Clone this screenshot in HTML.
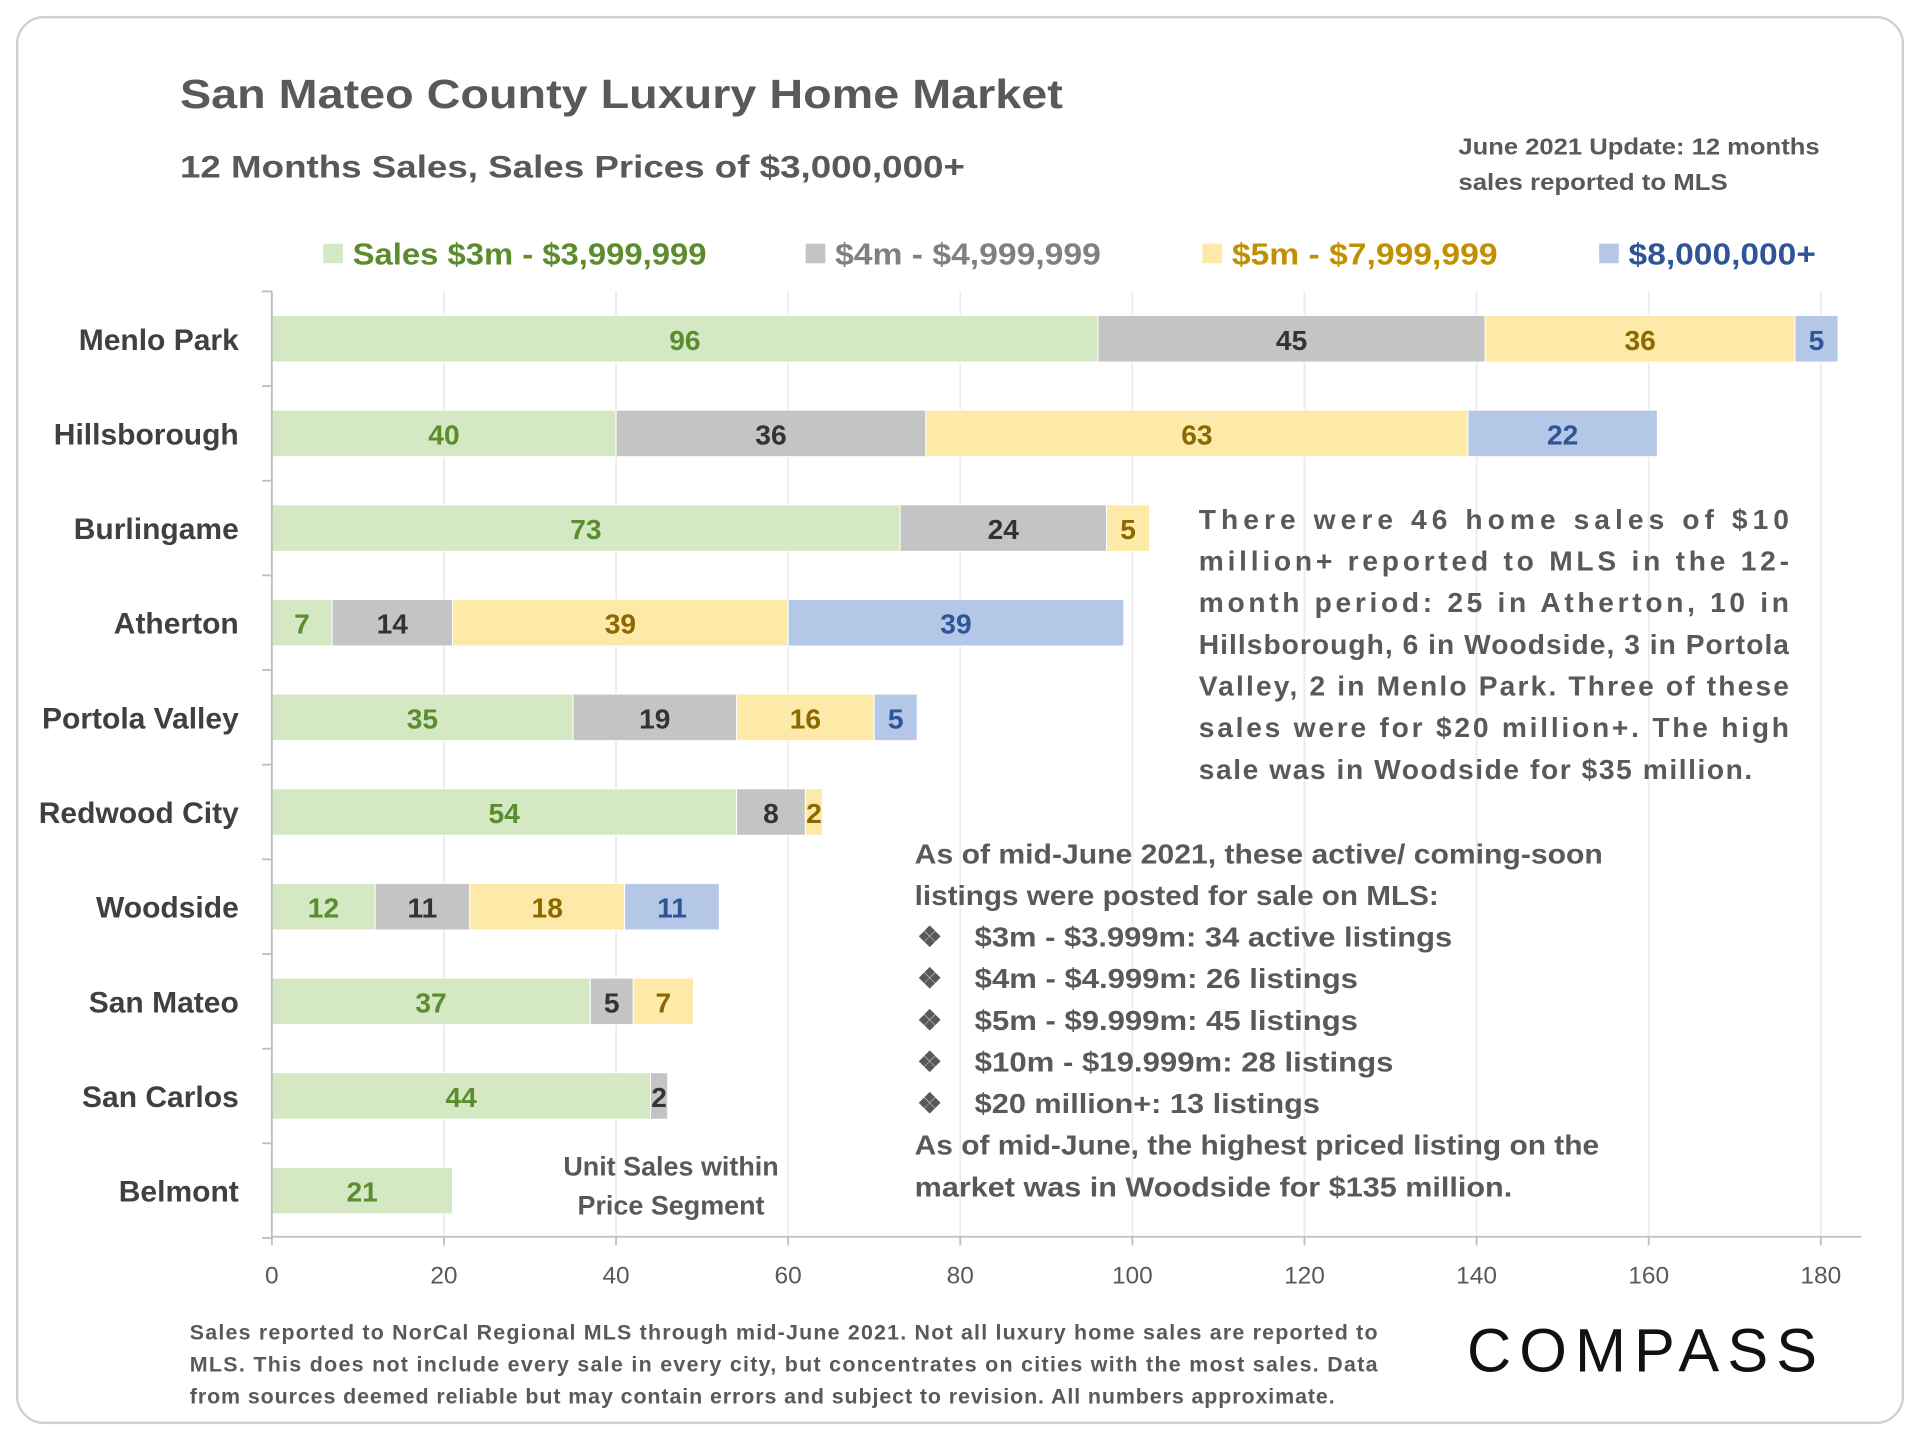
<!DOCTYPE html>
<html><head><meta charset="utf-8"><style>
html,body{margin:0;padding:0;background:#fff}
svg{display:block}
text{font-family:"Liberation Sans",sans-serif;font-weight:bold}
</style></head><body>
<svg id="chart" width="1920" height="1440" viewBox="0 0 1568 1176" xmlns="http://www.w3.org/2000/svg">
<rect x="14" y="14" width="1540" height="1148" rx="22" fill="#fff" stroke="#d0d0d0" stroke-width="2"/>
<text x="147" y="88" font-size="33" fill="#595959" textLength="721" lengthAdjust="spacingAndGlyphs">San Mateo County Luxury Home Market</text>
<text x="147" y="145" font-size="26" fill="#595959" textLength="641" lengthAdjust="spacingAndGlyphs">12 Months Sales, Sales Prices of $3,000,000+</text>
<text font-size="19" fill="#595959"><tspan x="1191" y="126" textLength="295" lengthAdjust="spacingAndGlyphs">June 2021 Update: 12 months</tspan><tspan x="1191" y="155" textLength="220" lengthAdjust="spacingAndGlyphs">sales reported to MLS</tspan></text>
<g id="legend"></g>
<g id="grid"></g>
<g id="bars"></g>
<g id="axes"></g>
<text font-size="22" fill="#595959" text-anchor="middle"><tspan x="548" y="960">Unit Sales within</tspan><tspan x="548" y="992">Price Segment</tspan></text>
<g font-size="23" fill="#595959">
<text x="979" y="432" textLength="482" lengthAdjust="spacing">There were 46 home sales of $10</text>
<text x="979" y="466" textLength="482" lengthAdjust="spacing">million+ reported to MLS in the 12-</text>
<text x="979" y="500" textLength="482" lengthAdjust="spacing">month period: 25 in Atherton, 10 in</text>
<text x="979" y="534" textLength="482" lengthAdjust="spacing">Hillsborough, 6 in Woodside, 3 in Portola</text>
<text x="979" y="568" textLength="482" lengthAdjust="spacing">Valley, 2 in Menlo Park. Three of these</text>
<text x="979" y="602" textLength="482" lengthAdjust="spacing">sales were for $20 million+. The high</text>
<text x="979" y="636" textLength="452" lengthAdjust="spacing">sale was in Woodside for $35 million.</text>
</g>
<g font-size="23" fill="#595959">
<text x="747" y="705" textLength="562" lengthAdjust="spacingAndGlyphs">As of mid-June 2021, these active/ coming-soon</text>
<text x="747" y="739" textLength="428" lengthAdjust="spacingAndGlyphs">listings were posted for sale on MLS:</text>
<text x="749" y="773">❖</text><text x="796" y="773" textLength="390" lengthAdjust="spacingAndGlyphs">$3m - $3.999m:  34 active listings</text>
<text x="749" y="807">❖</text><text x="796" y="807" textLength="313" lengthAdjust="spacingAndGlyphs">$4m - $4.999m:  26 listings</text>
<text x="749" y="841">❖</text><text x="796" y="841" textLength="313" lengthAdjust="spacingAndGlyphs">$5m - $9.999m:  45 listings</text>
<text x="749" y="875">❖</text><text x="796" y="875" textLength="342" lengthAdjust="spacingAndGlyphs">$10m - $19.999m:  28 listings</text>
<text x="749" y="909">❖</text><text x="796" y="909" textLength="282" lengthAdjust="spacingAndGlyphs">$20 million+:  13 listings</text>
<text x="747" y="943" textLength="559" lengthAdjust="spacingAndGlyphs">As of mid-June, the highest priced listing on the</text>
<text x="747" y="977" textLength="488" lengthAdjust="spacingAndGlyphs">market was in Woodside for $135 million.</text>
</g>
<g font-size="17.5" fill="#595959">
<text x="155" y="1094" textLength="970" lengthAdjust="spacing">Sales reported to NorCal Regional MLS through mid-June 2021. Not all luxury home sales are reported to</text>
<text x="155" y="1120" textLength="970" lengthAdjust="spacing">MLS. This does not include every sale in every city, but concentrates on cities with the most sales. Data</text>
<text x="155" y="1146" textLength="935" lengthAdjust="spacing">from sources deemed reliable but may contain errors and subject to revision. All numbers approximate.</text>
</g>
<text x="1198" y="1120" font-size="50" fill="#111" style="font-weight:normal" textLength="286" lengthAdjust="spacing">COMPASS</text>
</svg>
<script>
const categories=["Menlo Park","Hillsborough","Burlingame","Atherton","Portola Valley","Redwood City","Woodside","San Mateo","San Carlos","Belmont"];
const seriesNames=["Sales $3m - $3,999,999","$4m - $4,999,999","$5m - $7,999,999","$8,000,000+"];
const s3m=[96,40,73,7,35,54,12,37,44,21];
const s4m=[45,36,24,14,19,8,11,5,2,0];
const s5m=[36,63,5,39,16,2,18,7,0,0];
const s8m=[5,22,0,39,5,0,11,0,0,0];
const xTicks=[0,20,40,60,80,100,120,140,160,180];
const NS="http://www.w3.org/2000/svg";
const fills=["#d3e8c3","#c4c4c4","#fde9a8","#b4c7e7"];
const tcol=["#5b8c2e","#333333","#8a6a00","#2f5597"];
const lcol=["#5b8c2e","#808080","#c09000","#2f5597"];
const X0=222,X1=1487,xMax=180;
const x=v=>X0+v*(X1-X0)/xMax;
const rowTop=238,rowH=77.3;
const yc=i=>rowTop+rowH*(i+0.5);
function el(tag,attrs,parent,txt){const e=document.createElementNS(NS,tag);for(const k in attrs)e.setAttribute(k,attrs[k]);if(txt!==undefined)e.textContent=txt;parent.appendChild(e);return e;}
const grid=document.getElementById('grid'),bars=document.getElementById('bars'),axes=document.getElementById('axes'),legend=document.getElementById('legend');
// legend
const lx=[264,658,982,1306],lw=[289,217,217,153];
seriesNames.forEach((n,k)=>{
 const r=el('rect',{x:lx[k],y:199,width:16,height:16,fill:fills[k]},legend);
 
 
 const t=el('text',{x:lx[k]+24,y:216,'font-size':25,fill:lcol[k],textLength:lw[k],lengthAdjust:'spacingAndGlyphs'},legend,n);
 
 
});
// grid + ticks
xTicks.forEach(v=>{
 if(v>0){const g=el('line',{x1:x(v),x2:x(v),y1:238,y2:1010,stroke:'#ececec','stroke-width':1.5},grid);
 
 }
 const t=el('text',{x:x(v),y:1048,'font-size':20,fill:'#595959','text-anchor':'middle',style:'font-weight:normal'},axes,String(v));
 
 
 el('line',{x1:x(v),x2:x(v),y1:1010,y2:1017,stroke:'#bfbfbf','stroke-width':1.5},axes);
});
const xa=el('line',{x1:222,x2:1520,y1:1010,y2:1010,stroke:'#bfbfbf','stroke-width':1.5},axes);


const ya=el('line',{x1:222,x2:222,y1:238,y2:1010,stroke:'#bfbfbf','stroke-width':1.5},axes);


for(let i=0;i<=categories.length;i++)el('line',{x1:214,x2:222,y1:rowTop+rowH*i,y2:rowTop+rowH*i,stroke:'#bfbfbf','stroke-width':1.5},axes);
const series=[s3m,s4m,s5m,s8m];
categories.forEach((c,i)=>{
 const lab=el('text',{x:195,y:yc(i)+9,'font-size':24.5,fill:'#404040','text-anchor':'end'},axes,c);
 
 
 let acc=0;
 series.forEach((s,k)=>{
  const v=s[i]; if(!v)return;
  const r=el('rect',{x:x(acc),y:yc(i)-19,width:x(acc+v)-x(acc),height:38,fill:fills[k],stroke:'#ffffff','stroke-width':0.8},bars);
  
  
  const t=el('text',{x:(x(acc)+x(acc+v))/2,y:yc(i)+9,'font-size':23,fill:tcol[k],'text-anchor':'middle'},bars,String(v));
  
  
  acc+=v;
 });
});
</script>
</body></html>
